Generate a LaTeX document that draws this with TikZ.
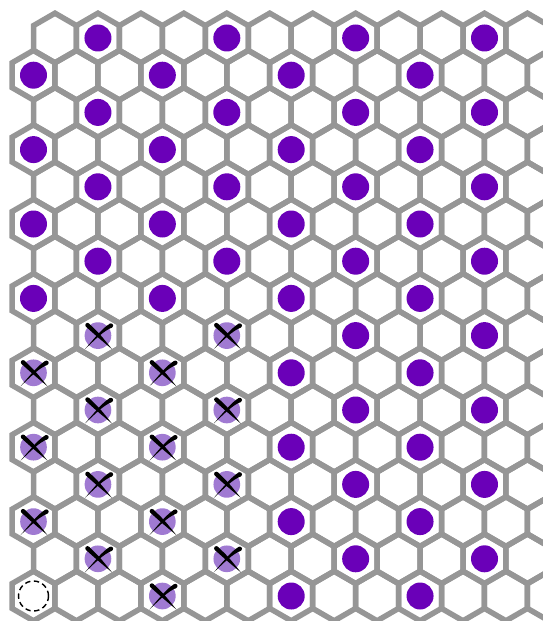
\documentclass[tikz,border=0pt]{standalone}
\usetikzlibrary{calc}
\definecolor{gridgray}{RGB}{150,150,150}
\definecolor{occupied}{RGB}{106,0,184}
\definecolor{removed}{RGB}{160,122,210}
\tikzset{
    cell/.style={draw=gridgray, line width=4.7pt},
    site/.style={circle, inner sep=0pt, minimum size=0.81cm},
    occupied site/.style={site, fill=occupied},
    removed site/.style={site, fill=removed, minimum size=0.8cm},
    vacant site/.style={site, draw, line width=1.2pt,
                        dash pattern=on 4.6pt off 3pt, minimum size=0.9cm},
    cross/.style={fill=black},
}
% one pointy-top cell of the lattice, centre in pixels
\newcommand{\hexcell}[2]{
    \draw[cell] (#1,#2) ++(0,-24.8) -- ++(21.475,12.4) -- ++(0,24.8)
        -- ++(-21.475,12.4) -- ++(-21.475,-12.4) -- ++(0,-24.8) -- cycle;
}
% removed site: pale disc struck out with two brush strokes
\newcommand{\crossout}[1]{
    \begin{scope}[shift={(#1.center)}]
        \fill[cross] (-9,-12.1) .. controls (2,-1.5) .. (14,13.5)
            .. controls (-1,1) .. (-12,-8.9) -- cycle;
        \fill[cross] (-10.5,-10.5) circle (2.2);
        \fill[cross] (-13,13.5) .. controls (-3,4.2) and (5.5,-4.8) .. (14,-8)
            -- (12,-12) .. controls (4.5,-7.5) and (-3,2) .. (-13,13.5) -- cycle;
        \fill[cross] (13,-10) circle (2.2);
    \end{scope}
}

\begin{document}
\begin{tikzpicture}[x=0.03cm, y=-0.03cm]
    \useasboundingbox (0,0) rectangle (543,621);
    \clip (0,0) rectangle (543,621);

    % lattice
    \foreach \r in {0,2,...,14}
        \foreach \k in {0,...,11}
            {\hexcell{55+\k*42.95}{38+\r*37.2}}
    \foreach \r in {1,3,...,15}
        \foreach \k in {0,...,12}
            {\hexcell{33.5+\k*42.95}{38+\r*37.2}}

    % occupied sites
    \foreach \r in {0,2,...,14}
        \foreach \k in {7,10}
            {\node[occupied site] (s-\r-\k) at (55+\k*42.95, 38+\r*37.2) {};}
    \foreach \r in {0,2,4,6}
        \foreach \k in {1,4}
            {\node[occupied site] (s-\r-\k) at (55+\k*42.95, 38+\r*37.2) {};}
    \foreach \r in {1,3,...,15}
        \foreach \k in {6,9}
            {\node[occupied site] (s-\r-\k) at (33.5+\k*42.95, 38+\r*37.2) {};}
    \foreach \r in {1,3,5,7}
        \foreach \k in {0,3}
            {\node[occupied site] (s-\r-\k) at (33.5+\k*42.95, 38+\r*37.2) {};}

    % removed sites
    \foreach \r in {8,10,12,14}
        \foreach \k in {1,4}
            {\node[removed site] (s-\r-\k) at (55+\k*42.95, 38+\r*37.2) {};
             \crossout{s-\r-\k}}
    \foreach \r/\k in {9/0,9/3,11/0,11/3,13/0,13/3,15/3}
        {\node[removed site] (s-\r-\k) at (33.5+\k*42.95, 38+\r*37.2) {};
         \crossout{s-\r-\k}}

    % vacancy
    \node[vacant site] (s-15-0) at (33.5, 596) {};

\end{tikzpicture}
\end{document}
